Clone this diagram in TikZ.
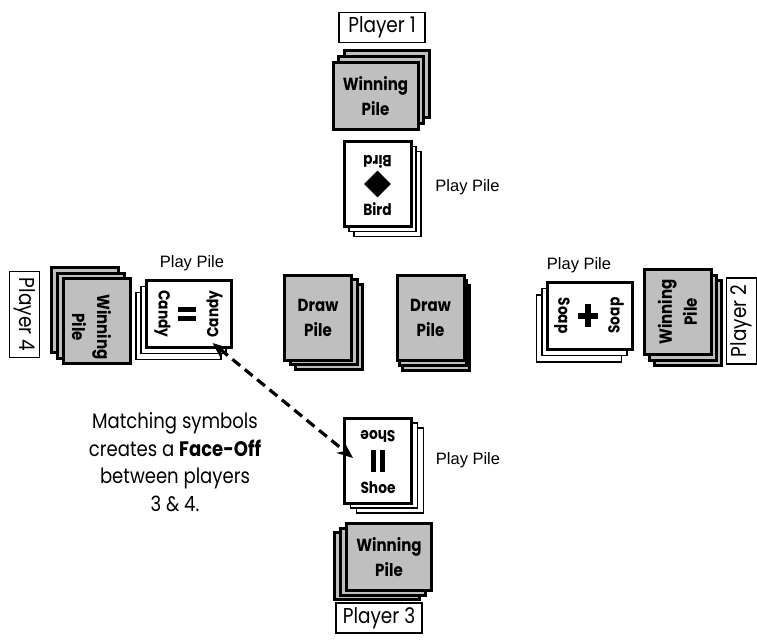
\documentclass[tikz,border=0pt]{standalone}
\usepackage{fontspec}
\newfontfamily\futura[FakeStretch=0.86]{Poppins}
\newfontfamily\arial{Liberation Sans}
\usepackage{tikz}
\usetikzlibrary{shapes.geometric,shadows}
\usetikzlibrary{arrows.meta}

\definecolor{pilegray}{gray}{0.75}

\tikzset{
	card/.style={draw, line width=3pt, inner sep=0pt, minimum width=67pt, minimum height=85pt},
	wide/.style={card, minimum width=85pt, minimum height=67pt},
	greypile/.style n args={4}{fill=pilegray,
		copy shadow={shadow xshift=#3, shadow yshift=#4, draw=black, fill=pilegray, line width=3pt},
		copy shadow={shadow xshift=#1, shadow yshift=#2, draw=black, fill=pilegray, line width=3pt},
		align=center, font=\futura\bfseries\fontsize{17.5}{25}\selectfont},
	playpile/.style n args={4}{fill=white,
		copy shadow={shadow xshift=#3, shadow yshift=#4, draw=black, fill=white, line width=1.5pt},
		copy shadow={shadow xshift=#1, shadow yshift=#2, draw=black, fill=white, line width=1.5pt}},
	player/.style={draw, line width=1.2pt, inner sep=0pt, minimum width=86pt, minimum height=30pt, font=\futura\fontsize{21.5}{21.5}\selectfont},
	cardtext/.style={inner sep=0pt, font=\futura\bfseries\fontsize{16}{16}\selectfont},
	piletext/.style={inner sep=0pt, align=center, font=\futura\bfseries\fontsize{17.5}{25}\selectfont},
	pilelabel/.style={inner sep=0pt, font=\arial\fontsize{16.5}{16.5}\selectfont},
	note/.style={inner sep=0pt, align=center, font=\futura\fontsize{21}{27.5}\selectfont},
	faceoff/.style={{Stealth[length=16pt,width=13pt]}-{Stealth[length=16pt,width=13pt]}, line width=3.2pt, dash pattern=on 10pt off 6pt},
}

\begin{document}
\begin{tikzpicture}[x=1pt,y=-1pt]
		\useasboundingbox (0,0) rectangle (757,643);
		%\draw[help lines,step=50] (0,0) grid (757,643);

		% player 1
		\node[player] (pl1) at (382,27.5) {Player 1};
		\node[wide, greypile={5.5pt}{6pt}{11pt}{12pt}] (win1) at (375.5,96) {Winning\\Pile};
		\node[card, playpile={5pt}{-5pt}{10pt}{-10pt}] (play1) at (377.5,184) {};
		\node[cardtext, rotate=180] (bird1) at ([shift={(0,-22)}]play1.center) {Bird};
		\node[cardtext] (bird2) at ([shift={(0,25)}]play1.center) {Bird};
		\node[diamond, fill, inner sep=0pt, minimum size=27pt] (sym1) at (play1.center) {};
		\node[pilelabel] (lab1) at (467.5,187) {Play Pile};

		% draw piles
		\node[card, greypile={5.5pt}{-4.5pt}{11pt}{-9pt}] (draw1) at (318,317.5) {Draw\\Pile};
		\node[card, greypile={2.5pt}{-5pt}{5pt}{-10pt}] (draw2) at (430.5,317.5) {Draw\\Pile};

		% player 4
		\node[player, rotate=-90] (pl4) at (24.5,314.5) {Player 4};
		\node[card, greypile={-6pt}{5.5pt}{-12pt}{11pt}] (win4) at (96.5,321) {};
		\node[piletext, rotate=-90] (txt4) at ([shift={(-5,6)}]win4.center) {Winning\\Pile};
		\node[wide, playpile={-5pt}{-6pt}{-10pt}{-12pt}] (play4) at (188.5,314) {};
		\node[cardtext, rotate=-90] (candy1) at ([shift={(-26,0)}]play4.center) {Candy};
		\node[cardtext, rotate=90] (candy2) at ([shift={(26,0)}]play4.center) {Candy};
		\fill ([shift={(-11,-7)}]play4.center) rectangle ++(18,5);
		\fill ([shift={(-11,2)}]play4.center) rectangle ++(18,5);
		\node[pilelabel] (lab4) at (192,263) {Play Pile};

		% player 2
		\node[wide, playpile={-5.5pt}{-6.5pt}{-11pt}{-13pt}] (play2) at (590,315.5) {};
		\node[cardtext, rotate=-90] (soap1) at ([shift={(-28,0)}]play2.center) {Soap};
		\node[cardtext, rotate=90] (soap2) at ([shift={(26,0)}]play2.center) {Soap};
		\fill ([shift={(-12,-3)}]play2.center) rectangle ++(20,6);
		\fill ([shift={(-5,-11.5)}]play2.center) rectangle ++(6,23);
		\node[pilelabel] (lab2) at (579,265) {Play Pile};
		\node[card, greypile={5pt}{-5.5pt}{10pt}{-11pt}] (win2) at (677.5,312) {};
		\node[piletext, rotate=90] (txt2) at (win2.center) {Winning\\Pile};
		\node[player, rotate=90] (pl2) at (741.5,321) {Player 2};

		% player 3
		\node[card, playpile={6pt}{-5pt}{12pt}{-10pt}] (play3) at (378,460.5) {};
		\node[cardtext, rotate=180] (shoe1) at ([shift={(0,-24)}]play3.center) {Shoe};
		\node[cardtext] (shoe2) at ([shift={(0,27)}]play3.center) {Shoe};
		\fill ([shift={(-7,-11)}]play3.center) rectangle ++(5,22);
		\fill ([shift={(2,-11)}]play3.center) rectangle ++(5,22);
		\node[pilelabel] (lab3) at (468,460) {Play Pile};
		\node[wide, greypile={-6pt}{-4.5pt}{-12pt}{-9pt}] (win3) at (389,557) {Winning\\Pile};
		\node[player] (pl3) at (379,618) {Player 3};

		% face-off
		\node[note] (note) at (175,462) {Matching symbols\\creates a \textbf{Face-Off}\\between players\\3 \& 4.};
		\coordinate (tip4) at ([shift={(-20,-6)}]play4.south east);
		\coordinate (tip3) at ([shift={(10,-2.5)}]play3.west);
		\draw[faceoff] (tip4) -- (tip3);
\end{tikzpicture}
\end{document}
